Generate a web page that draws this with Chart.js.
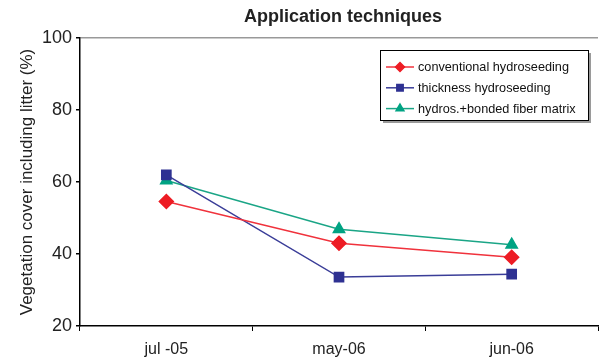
<!DOCTYPE html>
<html>
<head>
<meta charset="utf-8">
<script src="https://cdn.jsdelivr.net/npm/chart.js@4.4.0/dist/chart.umd.min.js"></script>
<style>
  html, body { margin: 0; padding: 0; background: #fff; overflow: hidden; }
  canvas { display: block; }
</style>
</head>
<body>
<canvas id="chart" width="599" height="362"></canvas>
<script>
// data
const categories = ['jul -05', 'may-06', 'jun-06'];
const conventional = [54.6, 43.0, 39.1];
const thickness = [62.0, 33.6, 34.4];
const bondedFiber = [60.4, 46.9, 42.6];
const yTicks = [20, 40, 60, 80, 100];

const RED = '#ed1c24', BLUE = '#2e3192', GREEN = '#00a383';
const FONT = 'Arial, "Liberation Sans", sans-serif';

// legend box drawn inside the plot, with a grey shadow like the original
const boxLegend = {
  id: 'boxLegend',
  afterDraw(chart) {
    const c = chart.ctx;
    const x = 380, y = 50, w = 208, h = 70;
    c.save();
    c.fillStyle = '#9a9a9a';
    c.fillRect(x + 3, y + 3, w, h);
    c.fillStyle = '#fff';
    c.fillRect(x, y, w, h);
    c.strokeStyle = '#000';
    c.lineWidth = 1;
    c.strokeRect(x + 0.5, y + 0.5, w, h);
    c.font = '12.7px ' + FONT;
    c.textBaseline = 'middle';
    chart.data.datasets.forEach((ds, i) => {
      const ry = y + 17 + i * 20.8;
      c.strokeStyle = ds.borderColor;
      c.lineWidth = 1.5;
      c.beginPath();
      c.moveTo(x + 6, ry);
      c.lineTo(x + 34, ry);
      c.stroke();
      c.fillStyle = ds.pointBackgroundColor;
      c.strokeStyle = ds.pointBackgroundColor;
      Chart.helpers.drawPoint(c, {
        pointStyle: ds.pointStyle, radius: 4.5, borderWidth: 1
      }, x + 20, ry);
      c.fillStyle = '#111';
      c.fillText(ds.label, x + 38, ry + 0.5);
    });
    c.restore();
  }
};

const topTitle = {
  id: 'topTitle',
  afterDraw(chart) {
    const c = chart.ctx, a = chart.chartArea;
    c.save();
    c.font = 'bold 18px ' + FONT;
    c.fillStyle = '#222';
    c.textAlign = 'center';
    c.textBaseline = 'middle';
    c.fillText('Application techniques', (a.left + a.right) / 2 + 4, 17);
    c.restore();
  }
};

new Chart(document.getElementById('chart'), {
  type: 'line',
  data: {
    labels: categories,
    datasets: [
      { label: 'conventional hydroseeding', data: conventional,
        borderColor: '#f0323c', borderWidth: 1.5,
        pointStyle: 'rectRot', pointRadius: 7,
        pointBackgroundColor: RED, pointBorderColor: RED },
      { label: 'thickness hydroseeding', data: thickness,
        borderColor: '#3a3d98', borderWidth: 1.5,
        pointStyle: 'rect', pointRadius: 6.5,
        pointBackgroundColor: BLUE, pointBorderColor: BLUE },
      { label: 'hydros.+bonded fiber matrix', data: bondedFiber,
        borderColor: '#1aa586', borderWidth: 1.5,
        pointStyle: 'triangle', pointRadius: 6.5,
        pointBackgroundColor: GREEN, pointBorderColor: GREEN }
    ]
  },
  options: {
    responsive: false,
    animation: false,
    layout: { autoPadding: false, padding: { top: 38, right: 1, left: 0, bottom: 0 } },
    plugins: {
      legend: { display: false },
      tooltip: { enabled: false }
    },
    scales: {
      x: {
        offset: true,
        grid: { offset: true, drawOnChartArea: false, tickLength: 5, tickColor: '#000' },
        border: { color: '#000', width: 1.5 },
        ticks: { color: '#222', padding: 9, font: { size: 16, family: FONT } },
        afterFit(s) { s.height = 36; }
      },
      y: {
        min: 20, max: 100,
        afterBuildTicks(s) { s.ticks = yTicks.map(v => ({ value: v })); },
        grid: {
          color: ctx => ctx.tick && ctx.tick.value === 100 ? '#999' : 'rgba(0,0,0,0)',
          tickColor: '#000', tickLength: 4, lineWidth: 1.5
        },
        border: { color: '#000', width: 1.5 },
        ticks: { color: '#222', padding: 4, font: { size: 18, family: FONT } },
        title: {
          display: true, text: 'Vegetation cover including litter (%)', color: '#222',
          padding: { top: 17, bottom: 0 },
          font: { size: 17, family: FONT }
        },
        afterFit(s) { s.width = 80; }
      }
    }
  },
  plugins: [boxLegend, topTitle]
});
</script>
</body>
</html>
